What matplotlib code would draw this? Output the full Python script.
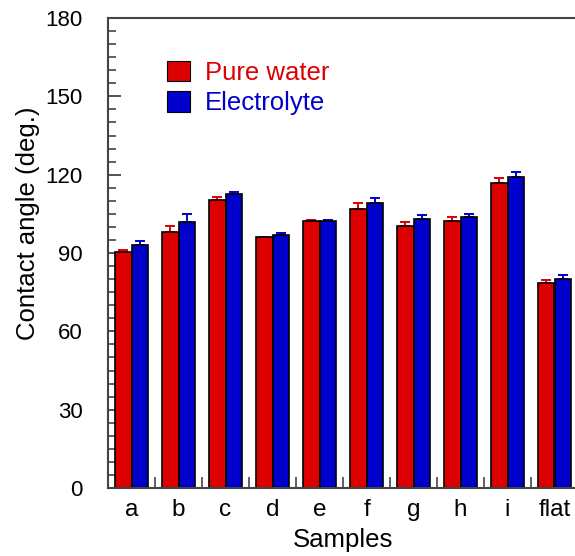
import matplotlib
matplotlib.use("Agg")
import matplotlib.pyplot as plt
import numpy as np
from matplotlib.patches import Rectangle
from matplotlib.ticker import MultipleLocator, FixedLocator

plt.rcParams['font.family'] = ['Liberation Sans', 'DejaVu Sans']

samples = ['a', 'b', 'c', 'd', 'e', 'f', 'g', 'h', 'i', 'flat']
pure_water = [90.4, 97.9, 110.4, 96.0, 102.1, 106.8, 100.4, 102.4, 116.8, 78.6]
pure_water_err = [0.9, 2.3, 0.9, 0.3, 0.4, 2.5, 1.6, 1.5, 2.0, 0.9]
electrolyte = [92.9, 102.0, 112.5, 96.9, 102.4, 109.3, 102.9, 103.8, 119.2, 79.9]
electrolyte_err = [1.6, 3.0, 0.8, 0.6, 0.2, 1.6, 1.5, 1.0, 1.9, 1.5]

RED = '#dd0000'
BLUE = '#0000cc'

W, H = 575, 556
fig = plt.figure(figsize=(W / 100, H / 100), dpi=100)
ax = fig.add_axes([108 / W, 1 - 488 / H, (578 - 108) / W, (488 - 18) / H])

x = np.arange(len(samples))
bw = 0.35
ax.bar(x - bw / 2, pure_water, bw, color=RED, edgecolor='black', linewidth=1.2, zorder=2)
ax.bar(x + bw / 2, electrolyte, bw, color=BLUE, edgecolor='black', linewidth=1.2, zorder=2)
ax.errorbar(x - bw / 2, pure_water, yerr=[np.zeros(len(x)), pure_water_err], fmt='none',
            ecolor=RED, elinewidth=1.4, capsize=3.5, capthick=1.4, zorder=1)
ax.errorbar(x + bw / 2, electrolyte, yerr=[np.zeros(len(x)), electrolyte_err], fmt='none',
            ecolor=BLUE, elinewidth=1.4, capsize=3.5, capthick=1.4, zorder=1)

ax.set_xlim(-0.5, 9.5)
ax.set_ylim(0, 180)
ax.yaxis.set_major_locator(MultipleLocator(30))
ax.yaxis.set_minor_locator(MultipleLocator(5))
ax.set_xticks(x)
ax.set_xticklabels(samples)
ax.xaxis.set_minor_locator(FixedLocator(x[:-1] + 0.5))

spine_c = '#444444'
for s in ['left', 'top', 'bottom']:
    ax.spines[s].set_color(spine_c)
    ax.spines[s].set_linewidth(1.5)
ax.spines['right'].set_visible(False)

ax.tick_params(axis='y', which='major', direction='in', length=9, width=1.3, color=spine_c,
               labelsize=16, pad=18)
ax.tick_params(axis='y', which='minor', direction='in', length=5.5, width=1.2, color=spine_c)
ax.tick_params(axis='x', which='major', length=0, labelsize=17.5, pad=8)
ax.tick_params(axis='x', which='minor', direction='in', length=8, width=1.2, color=spine_c)

fig.text(28 / W, 1 - 223 / H, 'Contact angle (deg.)', rotation=90, ha='center', va='center',
         fontsize=18.5)
fig.text(343 / W, 1 - 540 / H, 'Samples', ha='center', va='center', fontsize=18.5)

handles = [Rectangle((0, 0), 1, 1, facecolor=RED, edgecolor='black', linewidth=0.8),
           Rectangle((0, 0), 1, 1, facecolor=BLUE, edgecolor='black', linewidth=0.8)]
leg = ax.legend(handles, ['Pure water', 'Electrolyte'], loc='upper left',
                bbox_to_anchor=(167 / W, 1 - 61 / H), bbox_transform=fig.transFigure,
                frameon=False, borderpad=0, borderaxespad=0, fontsize=18.5,
                handlelength=0.9, handleheight=0.85, handletextpad=0.58, labelspacing=0.24,
                labelcolor=[RED, BLUE])

fig.savefig('out.png', dpi=100)
